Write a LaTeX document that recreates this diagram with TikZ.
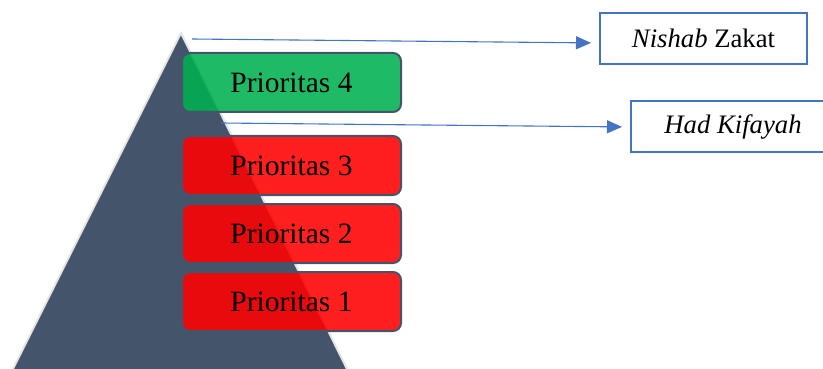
\documentclass[tikz,border=0pt]{standalone}
\usepackage{fontspec}
\setmainfont{Liberation Serif}
\usetikzlibrary{arrows.meta}
\definecolor{slate}{HTML}{44546A}
\definecolor{offblue}{HTML}{4472C4}
\definecolor{offgreen}{HTML}{00B050}
\definecolor{offred}{HTML}{FF0000}
\tikzset{
  prio/.style={rounded corners=8pt, draw=slate, line width=2pt, fill opacity=0.88,
    text opacity=1, minimum width=219pt, minimum height=59pt, inner sep=0pt,
    outer sep=0pt, font=\fontsize{29.5}{32}\selectfont, anchor=north west},
  label box/.style={draw=offblue, line width=2.2pt, fill=white, inner sep=0pt,
    outer sep=0pt, minimum height=51pt, font=\fontsize{26.7}{29}\selectfont},
  conn/.style={draw=offblue, line width=1.1pt, -{Triangle[length=15pt,width=13pt]}, shorten >=9pt}
}
\begin{document}
\begin{tikzpicture}[x=1pt,y=-1pt]
\useasboundingbox (0,0) rectangle (823,369);
\clip (0,0) rectangle (823,369);
% pyramid
\fill[slate, draw=black!10, line width=2pt] (181,33) -- (352.4,380) -- (7.5,380) -- cycle;
% priority boxes
\node[prio, fill=offgreen] (p4) at (182,53) {Prioritas 4};
\node[prio, fill=offred] (p3) at (182,136) {Prioritas 3};
\node[prio, fill=offred] (p2) at (182,204) {Prioritas 2};
\node[prio, fill=offred] (p1) at (182,272) {Prioritas 1};
% label boxes
\node[label box, minimum width=207pt, anchor=north west] (nz) at (600,13) {\textit{Nishab} Zakat};
\node[label box, minimum width=204pt, anchor=north west] (hk) at (631,101) {\textit{Had Kifayah}};
% connectors
\coordinate (a1) at (192,39);
\coordinate (a2) at (221,123);
\draw[conn] (a1) -- (nz.west |- 0,43);
\draw[conn] (a2) -- (hk.west |- 0,127);
\end{tikzpicture}
\end{document}
